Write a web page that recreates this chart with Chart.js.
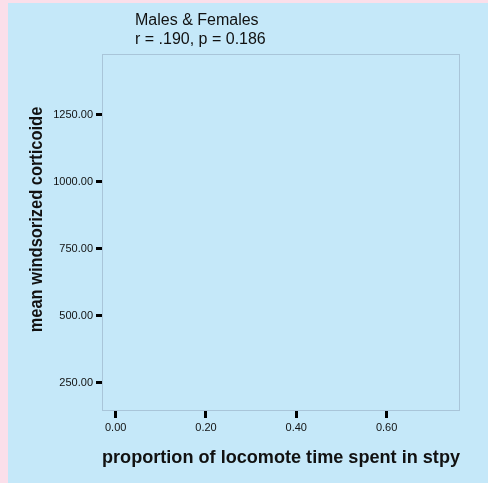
<!DOCTYPE html>
<html>
<head>
<meta charset="utf-8">
<script src="https://cdn.jsdelivr.net/npm/chart.js@4.4.1/dist/chart.umd.min.js"></script>
<style>
  html, body { margin: 0; padding: 0; background: #FBDFEA; overflow: hidden; }
  canvas { display: block; }
</style>
</head>
<body>
<canvas id="c" width="488" height="483"></canvas>
<script>
// ---- data ----
const headerLines = ["Males & Females", "r = .190, p = 0.186"];
const xTitle = "proportion of locomote time spent in stpy";
const yTitle = "mean windsorized corticoide";
const xTickValues = [0.00, 0.20, 0.40, 0.60];
const yTickValues = [250, 500, 750, 1000, 1250];
const xRange = [-0.0303, 0.7626];
const yRange = [145.5, 1477.6];
// the reference scatter shows no visible points
const pointsX = [];
const pointsY = [];

const BLUE = '#C5E8F9';
const PINK = '#FBDFEA';
const FRAME = '#A9C5D9';

const bgPlugin = {
  id: 'bg',
  beforeDraw(chart) {
    const ctx = chart.ctx;
    ctx.save();
    ctx.fillStyle = PINK;
    ctx.fillRect(0, 0, chart.width, chart.height);
    ctx.fillStyle = BLUE;
    ctx.fillRect(8, 3, chart.width - 8, chart.height - 3);
    ctx.restore();
  },
  afterDraw(chart) {
    const ctx = chart.ctx;
    const a = chart.chartArea;
    ctx.save();
    ctx.strokeStyle = FRAME;
    ctx.lineWidth = 1;
    ctx.strokeRect(Math.round(a.left) + 0.5, Math.round(a.top) + 0.5,
                   Math.round(a.right - a.left) - 1, Math.round(a.bottom - a.top) - 1);
    // header
    ctx.fillStyle = '#111';
    ctx.font = '16px "Liberation Sans", Arial, sans-serif';
    ctx.textAlign = 'left';
    ctx.textBaseline = 'alphabetic';
    ctx.fillText(headerLines[0], a.left + 33, 24.5);
    ctx.fillText(headerLines[1], a.left + 33, 44);
    // y title
    ctx.translate(37, 219.5);
    ctx.rotate(-Math.PI / 2);
    ctx.scale(0.865, 1);
    ctx.font = 'bold 19px "Liberation Sans", Arial, sans-serif';
    ctx.textAlign = 'center';
    ctx.textBaseline = 'middle';
    ctx.fillText(yTitle, 0, 0);
    ctx.restore();
  }
};

const fmt = v => Number(v).toFixed(2);

new Chart(document.getElementById('c'), {
  type: 'scatter',
  data: {
    datasets: [{
      label: 'Males & Females',
      data: pointsX.map((x, i) => ({ x: x, y: pointsY[i] })),
      backgroundColor: '#000',
      pointRadius: 3
    }]
  },
  options: {
    responsive: false,
    animation: false,
    devicePixelRatio: 1,
    layout: { padding: { left: 8, top: 54, right: 28, bottom: 0 } },
    plugins: { legend: { display: false }, title: { display: false }, tooltip: { enabled: false } },
    scales: {
      x: {
        type: 'linear',
        min: xRange[0], max: xRange[1],
        afterBuildTicks: s => { s.ticks = xTickValues.map(v => ({ value: v })); },
        afterFit: s => { s.height = 72; },
        border: { display: false },
        grid: { drawOnChartArea: false, drawTicks: true, tickLength: 7, color: '#000', lineWidth: 3 },
        ticks: {
          padding: 3, color: '#111', maxRotation: 0, autoSkip: false,
          font: { family: '"Liberation Sans", Arial, sans-serif', size: 11 },
          callback: v => fmt(v)
        },
        title: {
          display: true, text: xTitle, color: '#111',
          font: { family: '"Liberation Sans", Arial, sans-serif', size: 18.5, weight: 'bold' },
          padding: { top: 0, bottom: 14 }
        }
      },
      y: {
        type: 'linear',
        min: yRange[0], max: yRange[1],
        afterBuildTicks: s => { s.ticks = yTickValues.map(v => ({ value: v })); },
        afterFit: s => { s.width = 94; },
        border: { display: false },
        grid: { drawOnChartArea: false, drawTicks: true, tickLength: 6, color: '#000', lineWidth: 3 },
        ticks: {
          padding: 3, color: '#111', autoSkip: false,
          font: { family: '"Liberation Sans", Arial, sans-serif', size: 11 },
          callback: v => fmt(v)
        }
      }
    }
  },
  plugins: [bgPlugin]
});
</script>
</body>
</html>
